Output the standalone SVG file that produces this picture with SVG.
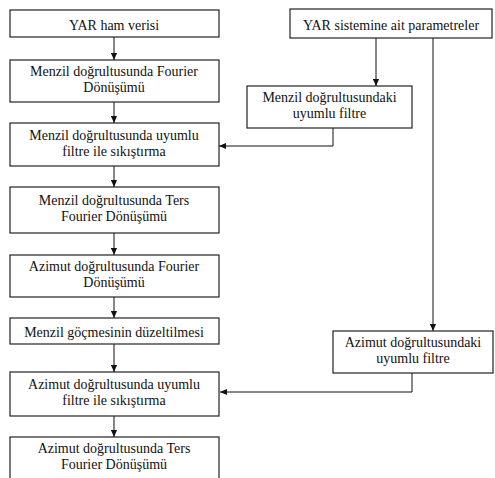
<svg xmlns="http://www.w3.org/2000/svg" width="495" height="478" viewBox="0 0 495 478">
<defs>
<style>
.box{fill:#fff;stroke:#222;stroke-width:1.2}
.t{font-family:"Liberation Serif","Times New Roman",serif;font-size:14px;fill:#111;text-anchor:middle}
.c{fill:none;stroke:#111;stroke-width:1}
</style>
<marker id="ah" viewBox="0 0 8 8" refX="8" refY="4" markerWidth="7" markerHeight="7" markerUnits="userSpaceOnUse" orient="auto">
<path d="M0,0.5 L8,4 L0,7.5 Z" fill="#111"/>
</marker>
</defs>
<rect width="495" height="478" fill="#fff"/>
<g id="connectors">
<line class="c" x1="114" y1="37" x2="114" y2="60" marker-end="url(#ah)"/>
<line class="c" x1="114" y1="102" x2="114" y2="123" marker-end="url(#ah)"/>
<line class="c" x1="114" y1="166" x2="114" y2="187" marker-end="url(#ah)"/>
<line class="c" x1="114" y1="233" x2="114" y2="255" marker-end="url(#ah)"/>
<line class="c" x1="114" y1="297" x2="114" y2="318" marker-end="url(#ah)"/>
<line class="c" x1="114" y1="344" x2="114" y2="372" marker-end="url(#ah)"/>
<line class="c" x1="114" y1="416" x2="114" y2="437" marker-end="url(#ah)"/>
<line class="c" x1="376" y1="38" x2="376" y2="86" marker-end="url(#ah)"/>
<line class="c" x1="433" y1="38" x2="433" y2="331" marker-end="url(#ah)"/>
<polyline class="c" points="333,128 333,146 219,146" marker-end="url(#ah)"/>
<polyline class="c" points="412,373 412,392 220,392" marker-end="url(#ah)"/>
</g>
<g id="n1"><rect class="box" x="10" y="10" width="209" height="27"/><text class="t" x="114" y="29.5">YAR ham verisi</text></g>
<g id="n2"><rect class="box" x="10" y="60" width="209" height="42"/><text class="t" x="114" y="76">Menzil doğrultusunda Fourier</text><text class="t" x="114" y="92">Dönüşümü</text></g>
<g id="n3"><rect class="box" x="10" y="123" width="209" height="43"/><text class="t" x="114" y="139.5">Menzil doğrultusunda uyumlu</text><text class="t" x="114" y="155.5">filtre ile sıkıştırma</text></g>
<g id="n4"><rect class="box" x="10" y="187" width="209" height="46"/><text class="t" x="114" y="204.5">Menzil doğrultusunda Ters</text><text class="t" x="114" y="220.5">Fourier Dönüşümü</text></g>
<g id="n5"><rect class="box" x="10" y="255" width="209" height="42"/><text class="t" x="114" y="271">Azimut doğrultusunda Fourier</text><text class="t" x="114" y="287">Dönüşümü</text></g>
<g id="n6"><rect class="box" x="10" y="318" width="209" height="26"/><text class="t" x="114" y="337">Menzil göçmesinin düzeltilmesi</text></g>
<g id="n7"><rect class="box" x="10" y="372" width="209" height="44"/><text class="t" x="114" y="388.5">Azimut doğrultusunda uyumlu</text><text class="t" x="114" y="404.5">filtre ile sıkıştırma</text></g>
<g id="n8"><rect class="box" x="10" y="437" width="209" height="50"/><text class="t" x="114" y="453">Azimut doğrultusunda Ters</text><text class="t" x="114" y="469">Fourier Dönüşümü</text></g>
<g id="p1"><rect class="box" x="290" y="9" width="202" height="29"/><text class="t" x="391" y="30">YAR sistemine ait parametreler</text></g>
<g id="p2"><rect class="box" x="247" y="86" width="165" height="42"/><text class="t" x="329.5" y="102">Menzil doğrultusundaki</text><text class="t" x="329.5" y="118">uyumlu filtre</text></g>
<g id="p3"><rect class="box" x="333" y="331" width="160" height="42"/><text class="t" x="413" y="347">Azimut doğrultusundaki</text><text class="t" x="413" y="363">uyumlu filtre</text></g>
</svg>
